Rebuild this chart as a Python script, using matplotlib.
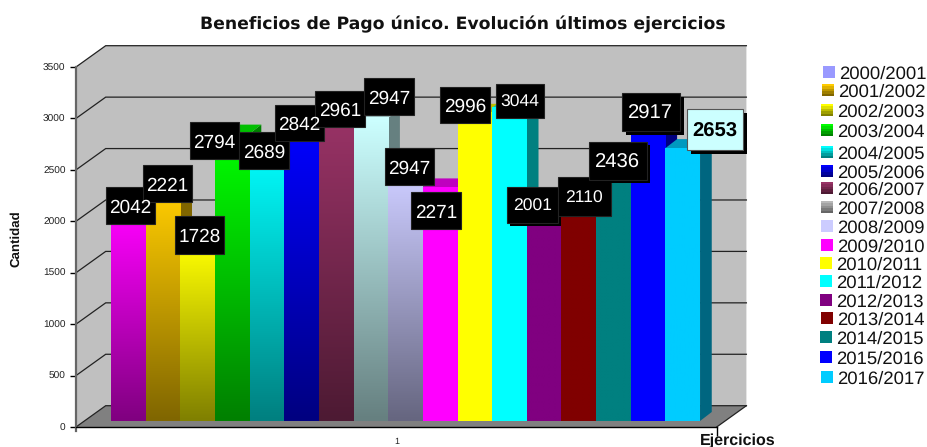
import numpy as np
import matplotlib
matplotlib.use("Agg")
import matplotlib.pyplot as plt
from matplotlib.colors import to_rgb
from matplotlib.patches import Polygon, Rectangle

plt.rcParams['font.family'] = ['Liberation Sans', 'DejaVu Sans']
plt.rcParams['text.hinting'] = 'no_hinting'

# data
seasons = ["2000/2001", "2001/2002", "2002/2003", "2003/2004", "2004/2005", "2005/2006",
           "2006/2007", "2007/2008", "2008/2009", "2009/2010", "2010/2011", "2011/2012",
           "2012/2013", "2013/2014", "2014/2015", "2015/2016", "2016/2017"]
label_values = [2042, 2221, 1728, 2794, 2689, 2842, 2961, 2947, 2947, 2271, 2996, 3044,
                2001, 2110, 2436, 2917, 2653]
# the 2008/2009 bar is drawn lower than its label says
bar_values = [2042, 2221, 1728, 2794, 2689, 2842, 2961, 2947, 2380, 2271, 2996, 3044,
              2001, 2110, 2436, 2917, 2653]
yticks = [0, 500, 1000, 1500, 2000, 2500, 3000, 3500]

bar_top = ["#ff00ff", "#ffcc00", "#ffff00", "#00ff00", "#00ffff", "#0000ff", "#993366", "#ccffff",
           "#ccccff", "#ff00ff", "#ffff00", "#00ffff", "#800080", "#800000", "#008080", "#0000ff", "#00ccff"]
bar_bottom = ["#800080", "#806600", "#808000", "#008000", "#008080", "#000080", "#4d1a33", "#668080",
              "#666680", "#ff00ff", "#ffff00", "#00ffff", "#800080", "#800000", "#008080", "#0000ff", "#00ccff"]
key_top = ["#9999ff", "#ffcc00", "#ffff00", "#00ff00", "#00ffff", "#0000ff", "#993366", "#b8b8b8",
           "#ccccff", "#ff00ff", "#ffff00", "#00ffff", "#800080", "#800000", "#008080", "#0000ff", "#00ccff"]
key_bottom = ["#9999ff", "#806600", "#808000", "#008000", "#008080", "#000080", "#4d1a33", "#666666",
              "#ccccff", "#ff00ff", "#ffff00", "#00ffff", "#800080", "#800000", "#008080", "#0000ff", "#00ccff"]

# label boxes in pixels: x0, y0, x1, y1, font size, shadow
label_boxes = [(105.7, 187, 155.3, 224, 13.7, 0), (142.7, 165.3, 192, 202.3, 13.7, 0),
               (175, 216, 224, 254, 13.7, 0), (190, 122, 239.3, 159, 13.7, 0),
               (239, 132.3, 288.7, 169.3, 13.7, 0), (275, 104.7, 324.3, 141, 13.7, 0),
               (315, 90.7, 364.7, 127.3, 13.7, 0), (364.3, 78.3, 414, 115, 13.7, 0),
               (385, 148.3, 434, 185, 13.7, 0), (410.7, 192.3, 460.7, 229, 13.7, 0),
               (440.3, 86.7, 490, 123.3, 13.7, 0), (496, 84, 544, 117.7, 12.6, 0),
               (507.3, 187, 558, 222.7, 12.6, 3), (557.7, 177, 611, 215.7, 12.6, 0),
               (588.7, 142, 646.7, 180, 14.6, 3), (622, 93, 680, 131, 14.6, 4),
               (687, 108.7, 743.3, 150, 14.6, 4)]

# legend rows in pixels
key_y = [72, 90, 110, 130, 152, 171, 188, 207, 226, 245, 263, 281, 300, 318, 337, 357, 377]
key_x = [823, 822, 821, 821, 821, 821, 821, 821, 821, 821, 820, 820, 820, 821, 820, 820, 821]

W, H = 927, 447
fig = plt.figure(figsize=(W / 100, H / 100), dpi=100)
x_left, x_right, y_zero, y_top = 76, 716.7, 427, 67
ax = fig.add_axes([x_left / W, 1 - y_zero / H, (x_right - x_left) / W, (y_zero - y_top) / H])

# x axis counts bars, y axis is the value
bar_px = 34.65
val_px = (y_zero - y_top) / 3500
xmin = (x_left - 111) / bar_px
xmax = (x_right - 111) / bar_px
wall_dx = 29.7 / bar_px
wall_dy = 21.3 / val_px
bar_dx = 11.7 / bar_px
bar_dy = 9 / val_px
base = 6 / val_px


def darker(c, f):
    return tuple(v * f for v in to_rgb(c))


def ramp(top, bottom, n=64):
    t = np.linspace(0, 1, n)[:, None, None]
    return np.array(to_rgb(top))[None, None, :] * (1 - t) + np.array(to_rgb(bottom))[None, None, :] * t


# walls and floor
ax.add_patch(Polygon([(xmin, 0), (xmin, 3500), (xmin + wall_dx, 3500 + wall_dy), (xmax + wall_dx, 3500 + wall_dy),
                      (xmax + wall_dx, wall_dy), (xmin + wall_dx, wall_dy)],
                     fc="#c0c0c0", ec="none", clip_on=False, zorder=1))
ax.add_patch(Polygon([(xmin, 0), (xmin + wall_dx, wall_dy), (xmax + wall_dx, wall_dy), (xmax, 0)],
                     fc="#808080", ec="none", clip_on=False, zorder=1.1))
for v in yticks:
    ax.plot([xmin, xmin + wall_dx, xmax + wall_dx], [v, v + wall_dy, v + wall_dy], color="#222222", lw=0.9,
            clip_on=False, zorder=1.2, solid_joinstyle="miter")
ax.plot([xmax, xmax + wall_dx], [0, wall_dy], color="#222222", lw=0.9, clip_on=False, zorder=1.2)

# bars, left to right so each one hides the side of the previous one
for i, v in enumerate(bar_values):
    z = 2 + i
    x0, x1 = i, i + 1
    y0, y1 = base, base + v
    ax.add_patch(Polygon([(x1, y0), (x1 + bar_dx, y0 + bar_dy), (x1 + bar_dx, y1 + bar_dy), (x1, y1)],
                         fc=darker(bar_top[i], 0.5), ec="none", clip_on=False, zorder=z))
    ax.add_patch(Polygon([(x0, y1), (x0 + bar_dx, y1 + bar_dy), (x1 + bar_dx, y1 + bar_dy), (x1, y1)],
                         fc=darker(bar_top[i], 0.75), ec="none", clip_on=False, zorder=z))
    im = ax.imshow(ramp(bar_top[i], bar_bottom[i]), extent=[x0, x1, y0, y1], aspect="auto",
                   origin="upper", zorder=z + 0.5, interpolation="bilinear")
    im.set_clip_on(False)

ax.set_xlim(xmin, xmax)
ax.set_ylim(0, 3500)
ax.patch.set_visible(False)
ax.set_yticks(yticks)
ax.set_xticks([xmin, (xmin + xmax) / 2, xmax])
ax.set_xticklabels(["", "1", ""], fontsize=6.5, color="#222222")
ax.xaxis.get_major_ticks()[0].tick1line.set_visible(False)
ax.xaxis.get_major_ticks()[1].tick1line.set_visible(False)
ax.tick_params(axis="y", labelsize=7.3, length=4.5, width=1, pad=3, labelcolor="#222222")
ax.tick_params(axis="x", length=6.5, width=1, pad=1)
for s in ["top", "right"]:
    ax.spines[s].set_visible(False)
ax.spines["left"].set_color("#666666")
ax.spines["left"].set_linewidth(1.6)
ax.spines["left"].set_bounds(-40, 3500)
ax.spines["bottom"].set_linewidth(1)
ax.spines["bottom"].set_zorder(30)

# pixel overlay for the value boxes and the legend
over = fig.add_axes([0, 0, 1, 1], zorder=5)
over.set_xlim(0, W)
over.set_ylim(H, 0)
over.axis("off")

for i, (x0, y0, x1, y1, fs, sh) in enumerate(label_boxes):
    last = i == len(label_boxes) - 1
    if sh:
        over.add_patch(Rectangle((x0 + sh, y0 + sh), x1 - x0, y1 - y0, fc="black", ec="none"))
    over.add_patch(Rectangle((x0, y0), x1 - x0, y1 - y0, fc="#ccffff" if last else "black",
                             ec="#555555" if last else "#222222", lw=0.8))
    over.text((x0 + x1) / 2, (y0 + y1) / 2, str(label_values[i]), ha="center", va="center_baseline",
              fontsize=fs, color="black" if last else "white", fontweight="bold" if last else "normal")

for i, name in enumerate(seasons):
    top, bottom = key_top[i], key_bottom[i]
    im = over.imshow(ramp(top, bottom, 5), extent=[key_x[i], key_x[i] + 12, key_y[i] + 6, key_y[i] - 6],
                     aspect="auto", origin="upper", interpolation="nearest")
    over.text(key_x[i] + 16, key_y[i], name, ha="left", va="center_baseline", fontsize=13.3, color="#111111")
over.set_xlim(0, W)
over.set_ylim(H, 0)

over.text(463, 24, "Beneficios de Pago único. Evolución últimos ejercicios", ha="center", va="center",
          fontsize=12.4, fontweight="bold", family="DejaVu Sans", color="#111111")
over.text(16, 239, "Cantidad", rotation=90, ha="center", va="center", fontsize=9.5, fontweight="bold", color="#111111")
over.text(738, 441, "Ejercicios", ha="center", va="center", fontsize=11.5, fontweight="bold", color="#111111")

fig.savefig("out.png", dpi=100)
